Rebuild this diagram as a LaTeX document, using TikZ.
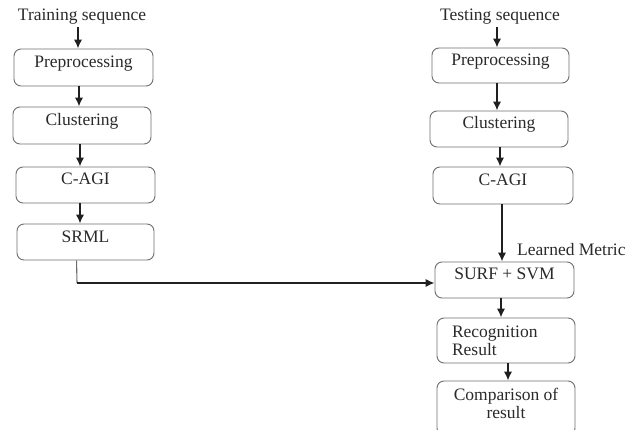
\documentclass[tikz,border=0pt]{standalone}
\usepackage{fontspec}
\setmainfont{Liberation Serif}
\usetikzlibrary{arrows.meta}
\definecolor{boxgray}{HTML}{6E6E6E}
\definecolor{arrowblack}{HTML}{202020}
\definecolor{textgray}{HTML}{2A2A2A}
\tikzset{
  stage/.style={draw=boxgray, line width=0.9pt, rounded corners=7pt,
    minimum width=138pt, minimum height=36pt, inner sep=0pt,
    text height=12pt, text depth=12pt,
    font=\fontsize{17.5}{18}\selectfont, text=textgray},
  lbl/.style={inner sep=2pt, font=\fontsize{17.5}{18}\selectfont, text=textgray},
  flow/.style={draw=arrowblack, line width=1.9pt, -{Latex[length=9pt,width=8.5pt]}},
}
\begin{document}
\begin{tikzpicture}[x=1pt,y=-1pt]
  \useasboundingbox (0,0) rectangle (640,430);
  % training side
  \node[lbl] (train) at (82,17) {Training sequence};
  \node[stage, minimum width=139pt, minimum height=37pt] (pre1) at (83.5,67.5) {Preprocessing};
  \node[stage, minimum height=37pt] (clu1) at (82,125.5) {Clustering};
  \node[stage, minimum width=139pt] (cagi1) at (85.5,185) {C-AGI};
  \node[stage, minimum width=137pt, text depth=10pt] (srml) at (85.5,242) {SRML};
  \draw[flow] ([xshift=-4pt]train.south) -- ([xshift=-4pt]train.south |- pre1.north);
  \draw[flow] ([xshift=-4.5pt]pre1.south) -- ([xshift=-4.5pt]pre1.south |- clu1.north);
  \draw[flow] ([xshift=-2pt]clu1.south) -- ([xshift=-2pt]clu1.south |- cagi1.north);
  \draw[flow] ([xshift=-5.5pt]cagi1.south) -- ([xshift=-5.5pt]cagi1.south |- srml.north);
  % testing side
  \node[lbl] (test) at (500,17) {Testing sequence};
  \node[stage, minimum width=137pt, minimum height=35pt] (pre2) at (500.5,65.5) {Preprocessing};
  \node[stage] (clu2) at (499,129) {Clustering};
  \node[stage, minimum width=140pt, minimum height=37pt] (cagi2) at (503,185.5) {C-AGI};
  \node[stage, minimum width=139pt] (surf) at (504.5,280) {SURF + SVM};
  \node[stage, minimum height=45pt, align=left, text width=108pt,
    text height=, text depth=] (rec) at (506,340.5) {Recognition\\Result};
  \node[stage, minimum height=54pt, align=center, text height=30pt, text depth=10pt] (comp) at (506,408) {Comparison of\\result};
  \node[lbl, anchor=west] (metric) at (515,250) {Learned Metric};
  \draw[flow] ([xshift=-3pt]test.south) -- ([xshift=-3pt]test.south |- pre2.north);
  \draw[flow] ([xshift=-3.5pt]pre2.south) -- ([xshift=-3.5pt]pre2.south |- clu2.north);
  \draw[flow] ([xshift=1pt]clu2.south) -- ([xshift=1pt]clu2.south |- cagi2.north);
  \draw[flow] ([xshift=-1pt]cagi2.south) -- ([xshift=-1pt]cagi2.south |- surf.north);
  \draw[flow] ([xshift=-3.5pt]surf.south) -- ([xshift=-3.5pt]surf.south |- rec.north);
  \draw[flow] ([xshift=2pt]rec.south) -- ([xshift=2pt]rec.south |- comp.north);
  % metric link
  \coordinate (drop) at ([xshift=60pt]srml.south west);
  \coordinate (bend) at (77,283);
  \draw[boxgray, line width=1.1pt] (drop) -- (bend);
  \draw[flow] (bend) -- (bend -| surf.west);
\end{tikzpicture}
\end{document}
